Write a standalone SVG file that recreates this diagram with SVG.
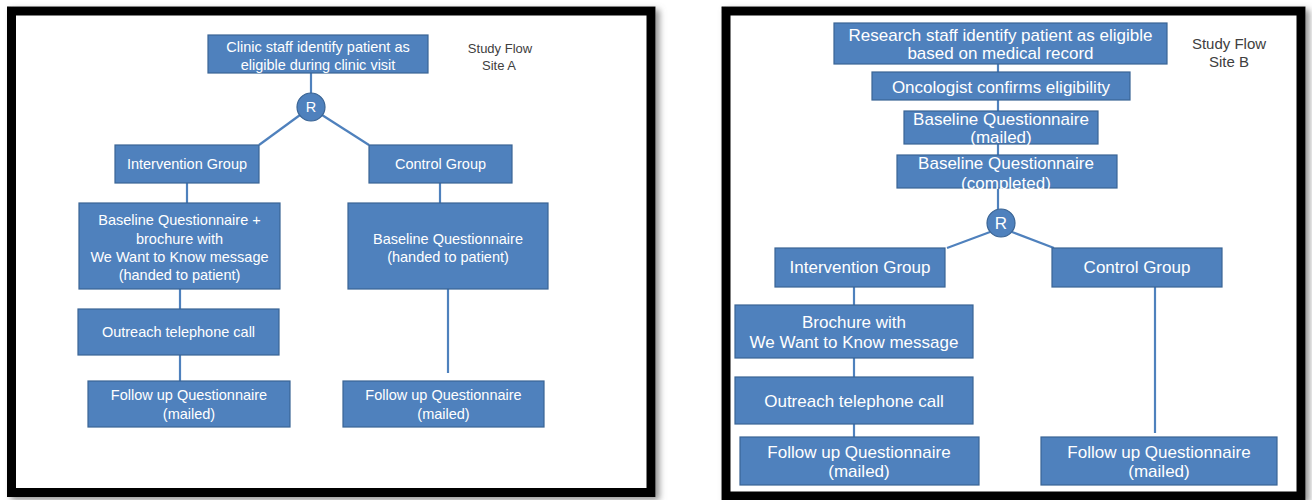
<svg xmlns="http://www.w3.org/2000/svg" width="1312" height="500" viewBox="0 0 1312 500">
<defs>
<filter id="shadow" x="-5%" y="-5%" width="110%" height="110%">
<feDropShadow dx="4" dy="3" stdDeviation="3" flood-color="#777" flood-opacity="0.8"/>
</filter>
<style>
.frame{fill:#fff;stroke:#000;stroke-width:9;filter:url(#shadow)}
.box{fill:#4F81BD;stroke:#3A6494;stroke-width:1.2}
.circ{fill:#4F81BD;stroke:#3A6494;stroke-width:1.2}
.t{font-family:"Liberation Sans",Arial,sans-serif;fill:#fff;text-anchor:middle;dominant-baseline:central}
.a{font-size:14.5px}
.b{font-size:17px}
.lab{font-family:"Liberation Sans",Arial,sans-serif;fill:#404040;text-anchor:middle;dominant-baseline:central}
.conn line{stroke:#4F81BD;stroke-width:2.2}
</style>
</defs>
<rect width="1312" height="500" fill="#fff"/>
<g id="frameA"><rect class="frame" x="11.5" y="11" width="639.5" height="481.5"/></g>
<g id="frameB"><rect class="frame" x="726" y="11" width="575" height="485"/></g>

<g id="connectors" class="conn">
<line x1="311" y1="73" x2="311" y2="93"/>
<line x1="300" y1="115" x2="259" y2="145"/>
<line x1="322" y1="115" x2="369" y2="145"/>
<line x1="187" y1="183" x2="187" y2="203"/>
<line x1="440" y1="183" x2="440" y2="203"/>
<line x1="180" y1="289" x2="180" y2="309"/>
<line x1="180" y1="355" x2="180" y2="381"/>
<line x1="448" y1="289" x2="448" y2="373"/>
<line x1="998" y1="64" x2="998" y2="209"/>
<line x1="990" y1="232" x2="947" y2="248"/>
<line x1="1012" y1="232" x2="1054" y2="248"/>
<line x1="854" y1="287" x2="854" y2="305"/>
<line x1="854" y1="358" x2="854" y2="377"/>
<line x1="854" y1="424" x2="854" y2="437"/>
<line x1="1155" y1="287" x2="1155" y2="433"/>
</g>

<g id="labelA"><text class="lab" x="500" y="48" font-size="13">Study Flow</text><text class="lab" x="499" y="65" font-size="13">Site A</text></g>
<g id="labelB"><text class="lab" x="1229" y="43" font-size="15">Study Flow</text><text class="lab" x="1229" y="61" font-size="15">Site B</text></g>

<g id="a_identify"><rect class="box" x="208" y="35" width="220" height="38"/><text class="t a" x="318" y="47">Clinic staff identify patient as</text><text class="t a" x="318" y="65">eligible during clinic visit</text></g>
<g id="a_R"><circle class="circ" cx="311" cy="107" r="14"/><text class="t a" x="311" y="107">R</text></g>
<g id="a_int"><rect class="box" x="115" y="145" width="144" height="38"/><text class="t a" x="187" y="164">Intervention Group</text></g>
<g id="a_ctrl"><rect class="box" x="369" y="145" width="143" height="38"/><text class="t a" x="440.5" y="164">Control Group</text></g>
<g id="a_bq_int"><rect class="box" x="79" y="203" width="201" height="86"/><text class="t a" x="179.5" y="220">Baseline Questionnaire +</text><text class="t a" x="179.5" y="239">brochure with</text><text class="t a" x="179.5" y="257">We Want to Know message</text><text class="t a" x="179.5" y="275">(handed to patient)</text></g>
<g id="a_bq_ctrl"><rect class="box" x="348" y="203" width="200" height="86"/><text class="t a" x="448" y="239">Baseline Questionnaire</text><text class="t a" x="448" y="257">(handed to patient)</text></g>
<g id="a_outreach"><rect class="box" x="78" y="309" width="201" height="46"/><text class="t a" x="178.5" y="332">Outreach telephone call</text></g>
<g id="a_fu_int"><rect class="box" x="88" y="381" width="202" height="46"/><text class="t a" x="189" y="395">Follow up Questionnaire</text><text class="t a" x="189" y="414">(mailed)</text></g>
<g id="a_fu_ctrl"><rect class="box" x="343" y="381" width="201" height="46"/><text class="t a" x="443.5" y="395">Follow up Questionnaire</text><text class="t a" x="443.5" y="414">(mailed)</text></g>

<g id="b_identify"><rect class="box" x="834" y="23" width="333" height="41"/><text class="t b" x="1000.5" y="35">Research staff identify patient as eligible</text><text class="t b" x="1000.5" y="53">based on medical record</text></g>
<g id="b_onc"><rect class="box" x="872" y="72" width="258" height="28"/><text class="t b" x="1001" y="87">Oncologist confirms eligibility</text></g>
<g id="b_bq_mailed"><rect class="box" x="904" y="111" width="194" height="33"/><text class="t b" x="1001" y="119">Baseline Questionnaire</text><text class="t b" x="1001" y="137">(mailed)</text></g>
<g id="b_bq_completed"><rect class="box" x="897" y="155" width="220" height="33"/><text class="t b" x="1006" y="163">Baseline Questionnaire</text><text class="t b" x="1006" y="183">(completed)</text></g>
<g id="b_R"><circle class="circ" cx="1001" cy="223" r="14"/><text class="t b" x="1001" y="223">R</text></g>
<g id="b_int"><rect class="box" x="775" y="248" width="170" height="39"/><text class="t b" x="860" y="267">Intervention Group</text></g>
<g id="b_ctrl"><rect class="box" x="1052" y="248" width="170" height="39"/><text class="t b" x="1137" y="267">Control Group</text></g>
<g id="b_brochure"><rect class="box" x="735" y="305" width="238" height="53"/><text class="t b" x="854" y="322">Brochure with</text><text class="t b" x="854" y="342">We Want to Know message</text></g>
<g id="b_outreach"><rect class="box" x="735" y="377" width="238" height="47"/><text class="t b" x="854" y="401">Outreach telephone call</text></g>
<g id="b_fu_int"><rect class="box" x="740" y="437" width="239" height="48"/><text class="t b" x="859" y="452">Follow up Questionnaire</text><text class="t b" x="859" y="471">(mailed)</text></g>
<g id="b_fu_ctrl"><rect class="box" x="1041" y="437" width="236" height="48"/><text class="t b" x="1159" y="452">Follow up Questionnaire</text><text class="t b" x="1159" y="471">(mailed)</text></g>
</svg>
